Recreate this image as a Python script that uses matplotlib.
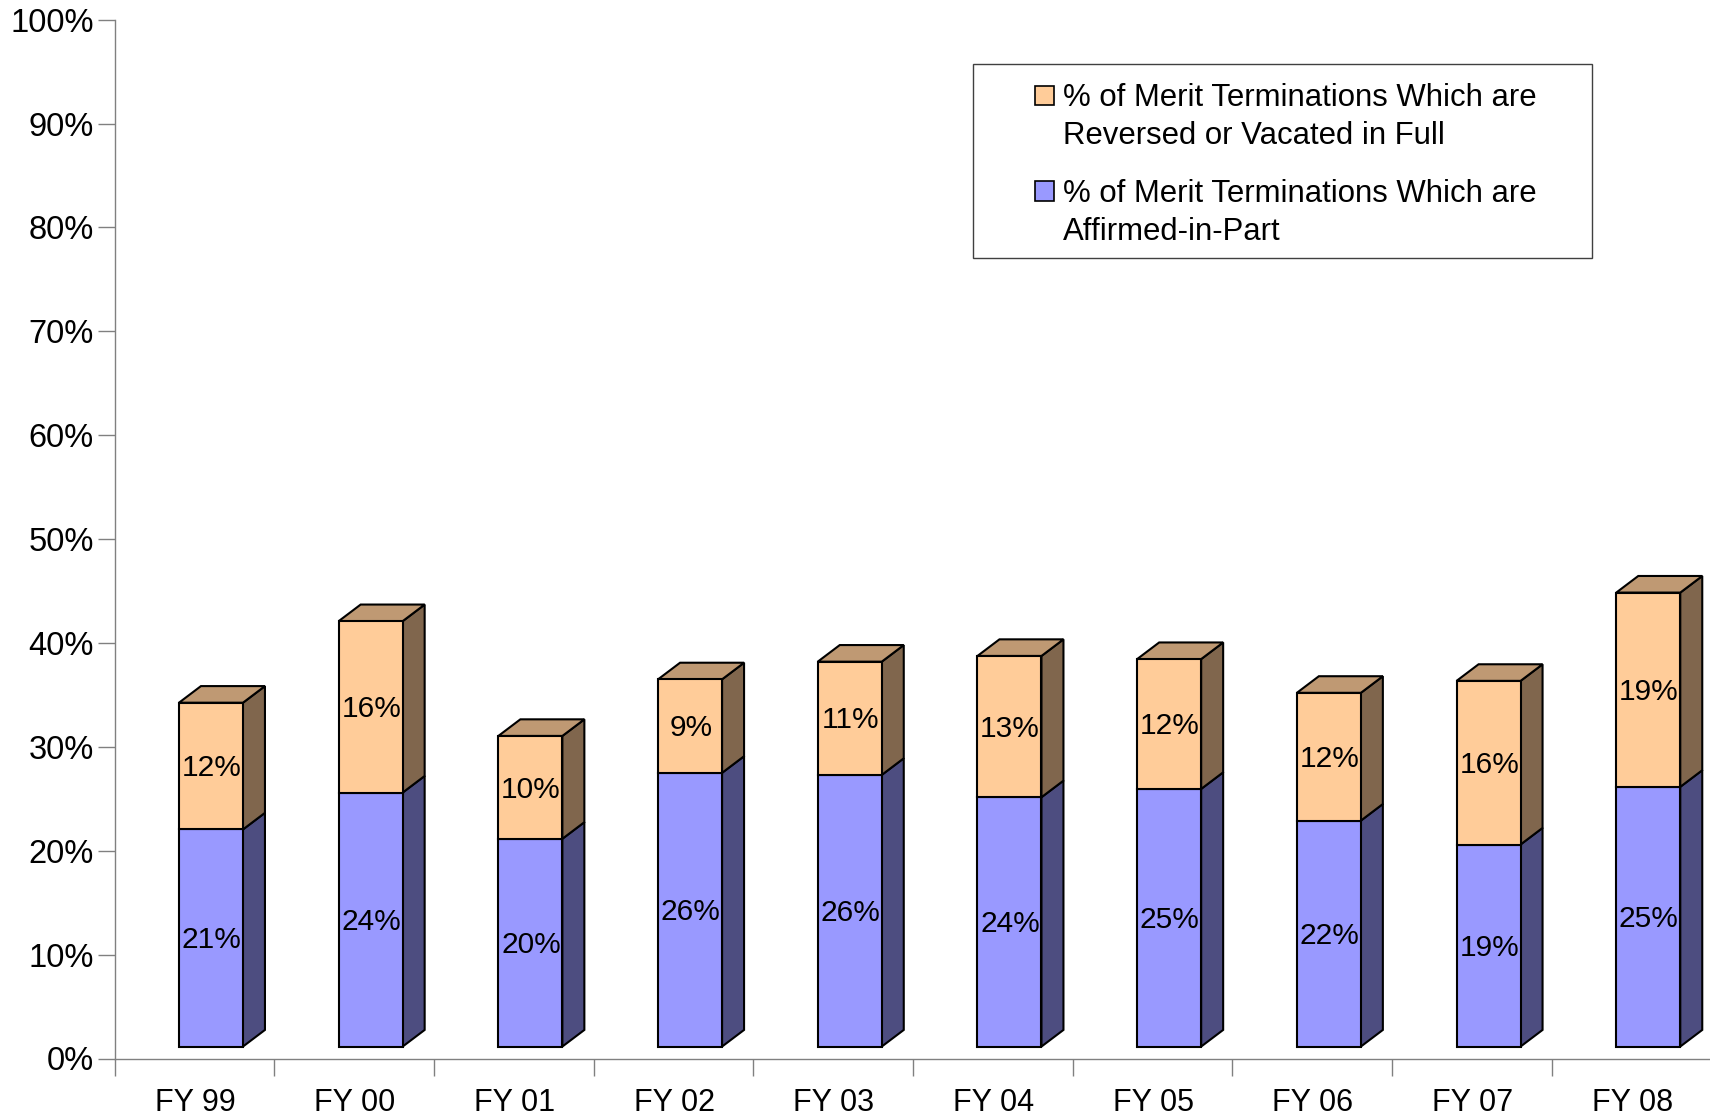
import matplotlib
matplotlib.use("Agg")
import matplotlib.pyplot as plt
import numpy as np
from matplotlib.patches import Rectangle

plt.rcParams['font.family'] = ['Liberation Sans', 'DejaVu Sans']

# Data
years = ['FY 99', 'FY 00', 'FY 01', 'FY 02', 'FY 03', 'FY 04', 'FY 05', 'FY 06', 'FY 07', 'FY 08']
affirmed = [20.9, 24.45, 20.0, 26.35, 26.15, 24.0, 24.8, 21.75, 19.45, 25.0]
reversed_full = [12.2, 16.5, 9.9, 9.0, 10.9, 13.6, 12.5, 12.3, 15.75, 18.7]
affirmed_labels = ['21%', '24%', '20%', '26%', '26%', '24%', '25%', '22%', '19%', '25%']
reversed_labels = ['12%', '16%', '10%', '9%', '11%', '13%', '12%', '12%', '16%', '19%']
legend_labels = ['% of Merit Terminations Which are\nReversed or Vacated in Full',
                 '% of Merit Terminations Which are\nAffirmed-in-Part']

W, H = 1710, 1118
fig = plt.figure(figsize=(W / 100, H / 100), dpi=100)

# Axes placed in pixels
left, right, top, bottom = 114.5, 1710, 19.7, 1058.5
ax = fig.add_axes([left / W, 1 - bottom / H, (right - left) / W, (bottom - top) / H])
slot = 159.7
ax.set_xlim(0, (right - left) / slot)
ax.set_ylim(0, 100)

BLUE, BLUE_SIDE = '#9999FF', '#4D4D80'
PEACH, PEACH_SIDE, PEACH_TOP = '#FFCC99', '#80664D', '#BF9973'
GREY = '#808080'

# 3D look: fake depth, floor of the box sits above the axis line
floor = 1.15
depth_x = 22 / slot
depth_y = 1.6
bar_w = 64 / slot
lw = 1.5

x = np.arange(len(years)) + 0.604
aff = np.array(affirmed)
rev = np.array(reversed_full)


def side_face(xr, y0, y1, color):
    ax.fill([xr, xr + depth_x, xr + depth_x, xr], [y0, y0 + depth_y, y1 + depth_y, y1],
            facecolor=color, edgecolor='black', linewidth=lw, joinstyle='miter', zorder=2)


for i in range(len(x)):
    xr = x[i] + bar_w / 2
    xl = x[i] - bar_w / 2
    y1 = floor + aff[i]
    y2 = y1 + rev[i]
    side_face(xr, floor, y1, BLUE_SIDE)
    side_face(xr, y1, y2, PEACH_SIDE)
    # top of the box
    ax.fill([xl, xr, xr + depth_x, xl + depth_x], [y2, y2, y2 + depth_y, y2 + depth_y],
            facecolor=PEACH_TOP, edgecolor='black', linewidth=lw, joinstyle='miter', zorder=2)

ax.bar(x, aff, bottom=floor, width=bar_w, color=BLUE, edgecolor='black', linewidth=lw, zorder=3)
ax.bar(x, rev, bottom=floor + aff, width=bar_w, color=PEACH, edgecolor='black', linewidth=lw, zorder=3)

for i in range(len(x)):
    ax.text(x[i] + 0.004, floor + aff[i] / 2 + 0.08, affirmed_labels[i], ha='center', va='center_baseline',
            fontsize=21.5, color='black', zorder=4)
    ax.text(x[i] + 0.004, floor + aff[i] + rev[i] / 2 + 0.08, reversed_labels[i], ha='center', va='center_baseline',
            fontsize=21.5, color='black', zorder=4)

# Axes
ax.spines['top'].set_visible(False)
ax.spines['right'].set_visible(False)
ax.spines['left'].set_color(GREY)
ax.spines['bottom'].set_color(GREY)
ax.spines['left'].set_linewidth(1)
ax.spines['bottom'].set_linewidth(1)
ax.set_yticks(np.arange(0, 101, 10))
ax.set_yticklabels([f'{v}%' for v in range(0, 101, 10)], fontsize=23.5)
ax.tick_params(axis='y', length=12.2, width=1, color=GREY, pad=2.8)
ax.set_xticks(np.arange(len(years)))
ax.set_xticklabels([])
ax.tick_params(axis='x', which='major', length=12.2, width=1, color=GREY)
ax.set_xticks(np.arange(len(years)) + 0.505, minor=True)
ax.set_xticklabels(years, minor=True, fontsize=22)
ax.tick_params(axis='x', which='minor', length=0, pad=21)


# Legend drawn by hand to keep the swatches on the first text line
def px(xp, yp):
    return xp / W, 1 - yp / H


x0, y0 = px(972.5, 258)
x1, y1 = px(1592, 64)
fig.add_artist(Rectangle((x0, y0), x1 - x0, y1 - y0, transform=fig.transFigure,
                         facecolor='white', edgecolor='#404040', linewidth=1))
for label, color, yp in zip(legend_labels, [PEACH, BLUE], [83, 179]):
    sx, sy = px(1034.5, yp + 21.5)
    fig.add_artist(Rectangle((sx, sy), 19 / W, 19 / H, transform=fig.transFigure,
                             facecolor=color, edgecolor='black', linewidth=1.2))
    tx, ty = px(1063, yp)
    fig.text(tx, ty, label, ha='left', va='top', fontsize=22.45, linespacing=1.33, color='black')

fig.savefig('out.png', dpi=100)
